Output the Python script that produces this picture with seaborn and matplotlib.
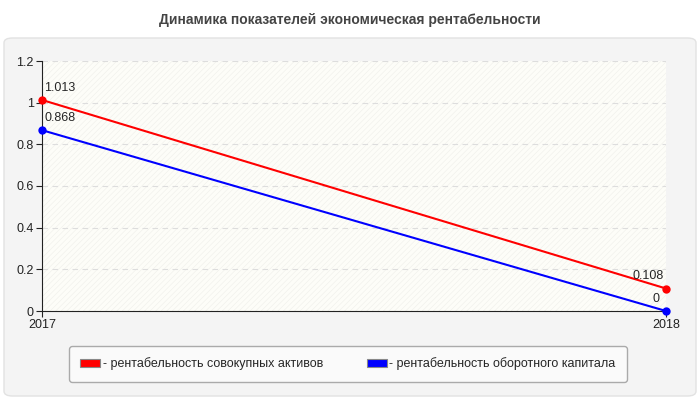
import numpy as np
import pandas as pd
import seaborn as sns
import matplotlib as mpl
from matplotlib import pyplot as plt
from matplotlib.patches import FancyBboxPatch

# Data
years = [2017, 2018]
total_assets = [1.013, 0.108]
working_capital = [0.868, 0.0]
series_names = ['- рентабельность совокупных активов', '- рентабельность оборотного капитала']
series_colors = ['#ff0000', '#0000ff']
title = 'Динамика показателей экономическая рентабельности'

df = pd.DataFrame({
    'year': years * 2,
    'value': total_assets + working_capital,
    'series': [series_names[0]] * 2 + [series_names[1]] * 2,
})

sns.set_style('white')
plt.rcParams['font.family'] = ['Liberation Sans', 'DejaVu Sans']
plt.rcParams['hatch.linewidth'] = 0.4

fig = plt.figure(figsize=(7, 4), dpi=100)
fig.patch.set_facecolor('white')

# Outer panel
panel = FancyBboxPatch((4 / 700, 4 / 400), 692 / 700, 358 / 400,
                       boxstyle='round,pad=0,rounding_size=0.012',
                       transform=fig.transFigure, facecolor='#f4f4f4',
                       edgecolor='#e2e2e2', linewidth=1, zorder=-10)
fig.patches.append(panel)

fig.text(0.5, 1 - 20 / 400, title, ha='center', va='center',
         fontsize=10, fontweight='bold', color='#444444')

ax = fig.add_axes([42 / 700, 1 - 311 / 400, 624 / 700, 250 / 400])
ax.set_zorder(1)
ax.set_facecolor('#fdfdf8')
ax.add_patch(mpl.patches.Rectangle((0, 0), 1, 1, transform=ax.transAxes,
                                   facecolor='none', edgecolor='#efefea',
                                   hatch='//////', linewidth=0, zorder=0))

sns.lineplot(data=df, x='year', y='value', hue='series', palette=series_colors,
             marker='o', markersize=6, markeredgewidth=0, linewidth=1.5,
             ax=ax, legend=True, zorder=3, clip_on=False)

# Value labels
for x, y in zip(years, total_assets):
    if x == years[0]:
        ax.text(x + 0.004, y + 0.03, f'{y:g}', fontsize=9, ha='left', va='bottom')
    else:
        ax.text(x - 0.004, y + 0.03, f'{y:g}', fontsize=9, ha='right', va='bottom')
for x, y in zip(years, working_capital):
    if x == years[0]:
        ax.text(x + 0.004, y + 0.03, f'{y:g}', fontsize=9, ha='left', va='bottom')
    else:
        ax.text(x - 0.01, y + 0.03, f'{y:g}', fontsize=9, ha='right', va='bottom')

ax.set_xlim(2017, 2018)
ax.set_ylim(0, 1.2)
ax.set_xticks(years)
ax.set_xticklabels([str(y) for y in years])
yt = [0, 0.2, 0.4, 0.6, 0.8, 1.0, 1.2]
ax.set_yticks(yt)
ax.set_yticklabels([f'{v:g}' for v in yt])
ax.tick_params(axis='both', labelsize=9, colors='#222222', length=4, width=0.8,
               direction='out', left=True, bottom=True, pad=2)
ax.yaxis.grid(True, linestyle=(0, (5, 4)), color='#dddddd', linewidth=0.8)
ax.set_axisbelow(True)
for s in ['top', 'right']:
    ax.spines[s].set_visible(False)
ax.spines['left'].set_color('#222222')
ax.spines['bottom'].set_color('#222222')
ax.set_xlabel('')
ax.set_ylabel('')

ax.get_legend().remove()
patch_handles = [mpl.patches.Patch(facecolor=c, edgecolor='#888888', linewidth=0.8) for c in series_colors]
leg = fig.legend(patch_handles, series_names, loc='center',
                 bbox_to_anchor=(348 / 700, 1 - 364 / 400), ncol=2, fontsize=9,
                 frameon=True, fancybox=True, framealpha=1, handlelength=1.6, handleheight=0.6,
                 handletextpad=0.2, columnspacing=3.5, borderpad=0.9)
leg.get_frame().set_facecolor('#fafafa')
leg.get_frame().set_edgecolor('#aaaaaa')
leg.get_frame().set_linewidth(1)

plt.savefig('out.png', dpi=100)
